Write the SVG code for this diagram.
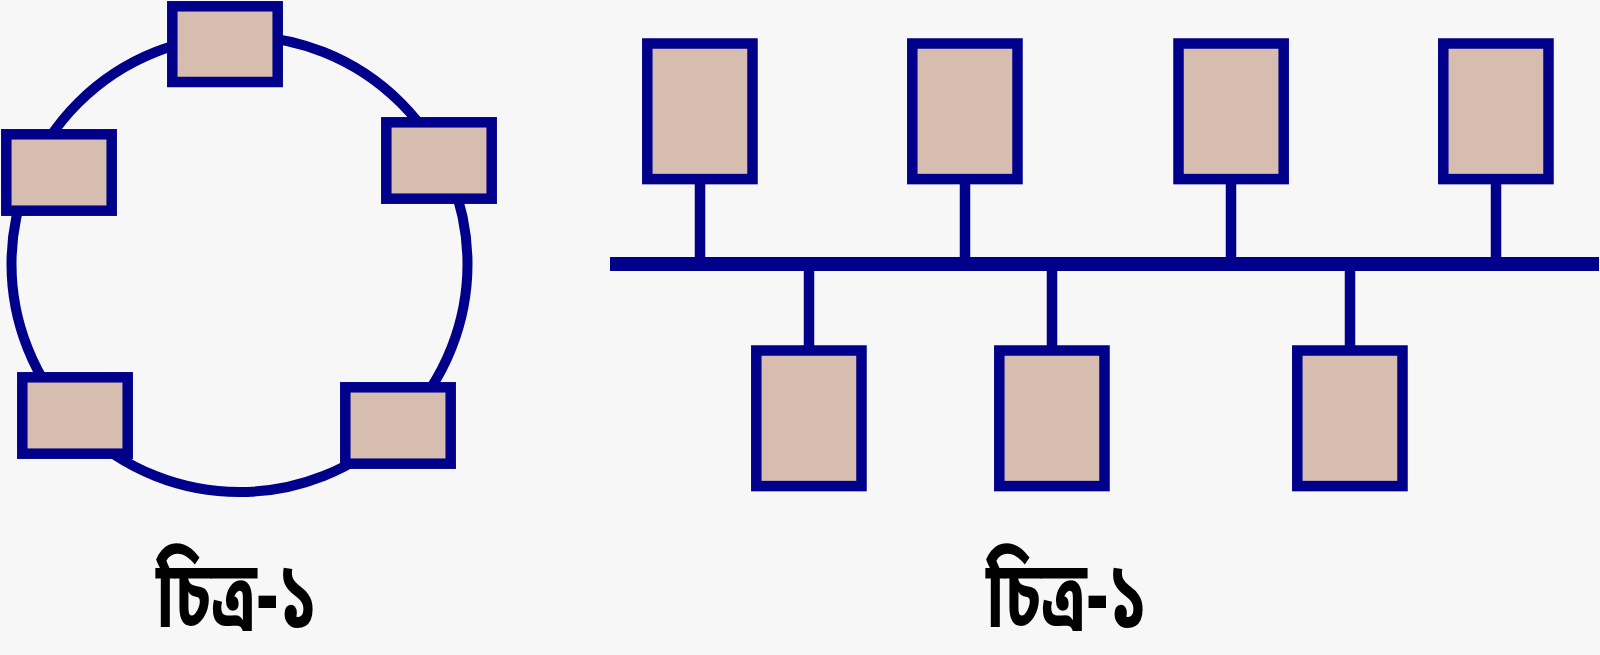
<svg xmlns="http://www.w3.org/2000/svg" width="1600" height="655" viewBox="0 0 1600 655">
<style>
.node{fill:#D6BDB0;stroke:#00008B;stroke-width:10.5}
.wire{stroke:#00008B;fill:none}
.lbl{font-family:"Noto Sans Bengali","Noto Sans","Lohit Bengali","FreeSerif",sans-serif;font-weight:bold;font-size:94px;fill:#000}
</style>
<rect width="1600" height="655" fill="#F7F7F8"/>
<g id="connectors">
<circle class="wire" cx="239.5" cy="264" r="228" stroke-width="10"/>
<line class="wire" x1="610" y1="264" x2="1599" y2="264" stroke-width="14"/>
<line class="wire" x1="700" y1="184" x2="700" y2="264" stroke-width="10.5"/>
<line class="wire" x1="965" y1="184" x2="965" y2="264" stroke-width="10.5"/>
<line class="wire" x1="1231" y1="184" x2="1231" y2="264" stroke-width="10.5"/>
<line class="wire" x1="1496" y1="184" x2="1496" y2="264" stroke-width="10.5"/>
<line class="wire" x1="809" y1="264" x2="809" y2="346" stroke-width="10.5"/>
<line class="wire" x1="1052" y1="264" x2="1052" y2="346" stroke-width="10.5"/>
<line class="wire" x1="1350" y1="264" x2="1350" y2="346" stroke-width="10.5"/>
</g>
<g id="ring-top"><rect class="node" x="172.3" y="6.3" width="105.4" height="75.7"/></g>
<g id="ring-left"><rect class="node" x="6.3" y="134.3" width="105.4" height="76.4"/></g>
<g id="ring-right"><rect class="node" x="386.3" y="122.3" width="105.4" height="76.4"/></g>
<g id="ring-bottom-left"><rect class="node" x="22.3" y="377.3" width="105.4" height="76.4"/></g>
<g id="ring-bottom-right"><rect class="node" x="345.3" y="387.3" width="105.4" height="76.4"/></g>
<g id="bus-top-1"><rect class="node" x="647.3" y="43.5" width="105.2" height="135.6"/></g>
<g id="bus-top-2"><rect class="node" x="912.3" y="43.5" width="105.2" height="135.6"/></g>
<g id="bus-top-3"><rect class="node" x="1178.5" y="43.5" width="105.2" height="135.6"/></g>
<g id="bus-top-4"><rect class="node" x="1443.3" y="43.5" width="105.2" height="135.6"/></g>
<g id="bus-bottom-1"><rect class="node" x="756.3" y="350.5" width="105.2" height="135.6"/></g>
<g id="bus-bottom-2"><rect class="node" x="999.3" y="350.5" width="105.2" height="135.6"/></g>
<g id="bus-bottom-3"><rect class="node" x="1297.3" y="350.5" width="105.2" height="135.6"/></g>
<g id="label-1"><text class="lbl" x="156" y="627" textLength="162" lengthAdjust="spacingAndGlyphs">চিত্র-১</text></g>
<g id="label-2"><text class="lbl" x="986" y="627" textLength="162" lengthAdjust="spacingAndGlyphs">চিত্র-১</text></g>
</svg>
